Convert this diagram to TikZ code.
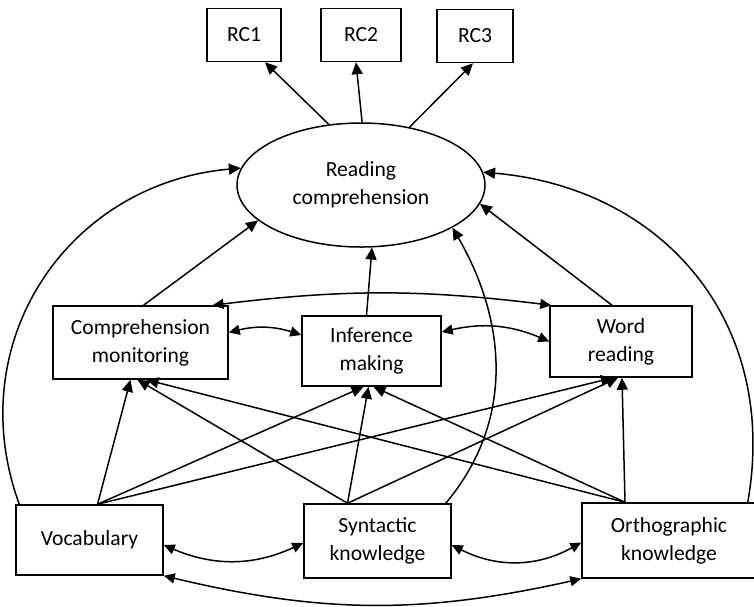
\documentclass[tikz,border=0pt]{standalone}
\usepackage{fontspec}
\setmainfont{Carlito}
\usetikzlibrary{arrows.meta,shapes.geometric}

\begin{document}
\begin{tikzpicture}[x=1pt,y=1pt,
  font=\fontsize{21.6}{28}\selectfont,
  box/.style={draw,line width=1.5pt,rectangle,align=center,inner sep=0pt},
  arr/.style={line width=1.5pt,-{Triangle[length=12pt,width=11pt]}},
  both/.style={line width=1.5pt,{Triangle[length=11pt,width=10pt]}-{Triangle[length=11pt,width=10pt]}}]
  \useasboundingbox (0,0) rectangle (754,-606);
  % indicators
  \node[box,minimum width=74pt,minimum height=53pt] (rc1) at (244,-35) {RC1};
  \node[box,minimum width=80pt,minimum height=53pt] (rc2) at (361,-35) {RC2};
  \node[box,minimum width=76pt,minimum height=53pt] (rc3) at (475,-36) {RC3};
  % latent
  \node[draw,ellipse,line width=1.5pt,minimum width=248pt,minimum height=124pt,inner sep=0pt,align=center] (rcomp) at (361,-185) {Reading\\comprehension};
  % middle layer
  \node[box,minimum width=175pt,minimum height=73pt] (cm) at (140.5,-342.5) {Comprehension\\monitoring};
  \node[box,minimum width=139pt,minimum height=70pt] (inf) at (371.5,-351) {Inference\\making};
  \node[box,minimum width=142pt,minimum height=71pt] (wr) at (621,-341.5) {Word\\reading};
  % bottom layer
  \node[box,minimum width=147pt,minimum height=70pt] (voc) at (89.5,-540) {Vocabulary};
  \node[box,minimum width=147pt,minimum height=74pt] (syn) at (377.5,-541) {Syntactic\\knowledge};
  \node[box,minimum width=174pt,minimum height=75pt] (ort) at (669,-540.5) {Orthographic\\knowledge};

  \draw[arr] (rcomp.118) -- ([xshift=21pt]rc1.south);
  \draw[arr] (rcomp.89) -- ([xshift=-5pt]rc2.south);
  \draw[arr] (rcomp.50) -- ([xshift=-2pt]rc3.south);

  \draw[arr] ([xshift=3pt]cm.north) -- (rcomp.199);
  \draw[arr] ([xshift=-5pt]inf.north) -- (rcomp.280);
  \draw[arr] ([xshift=-9pt]wr.north) -- (rcomp.351);

  \draw[arr] ([xshift=4pt]voc.north west) to[out=110,in=185,looseness=1.1] (rcomp.172);
  \draw[arr] ([xshift=-9pt]ort.north east) to[out=80,in=355,looseness=1.1] (rcomp.6);
  \draw[arr] ([xshift=-6pt]syn.north east) to[out=50,in=300] (rcomp.335);

  \draw[both] ([xshift=72pt]cm.north) to[bend left=7] ([xshift=2pt]wr.north west);
  \draw[both] ([yshift=10pt]cm.east) to[bend left=16] ([yshift=16pt]inf.west);
  \draw[both] ([yshift=19pt]inf.east) to[bend left=18] (wr.west);

  \draw[arr] ([xshift=8pt]voc.north) -- ([xshift=-10pt]cm.south);
  \draw[arr] ([xshift=8pt]voc.north) -- ([xshift=-8pt]inf.south);
  \draw[arr] ([xshift=8pt]voc.north) -- ([xshift=-8pt]wr.south);
  \draw[arr] ([xshift=-30pt]syn.north) -- ([xshift=-3pt]cm.south);
  \draw[arr] ([xshift=-30pt]syn.north) -- ([xshift=-3pt]inf.south);
  \draw[arr] ([xshift=-30pt]syn.north) -- ([xshift=-3pt]wr.south);
  \draw[arr] ([xshift=-44pt]ort.north) -- ([xshift=6pt]cm.south);
  \draw[arr] ([xshift=-44pt]ort.north) -- ([xshift=2pt]inf.south);
  \draw[arr] ([xshift=-44pt]ort.north) -- ([xshift=1pt]wr.south);

  \draw[both] ([yshift=-5pt]voc.east) to[bend right=24] ([yshift=-2pt]syn.west);
  \draw[both] ([yshift=-4pt]syn.east) to[bend right=28] ([yshift=-2pt]ort.west);
  \draw[both] (voc.south east) to[bend right=13] (ort.south west);
\end{tikzpicture}
\end{document}
